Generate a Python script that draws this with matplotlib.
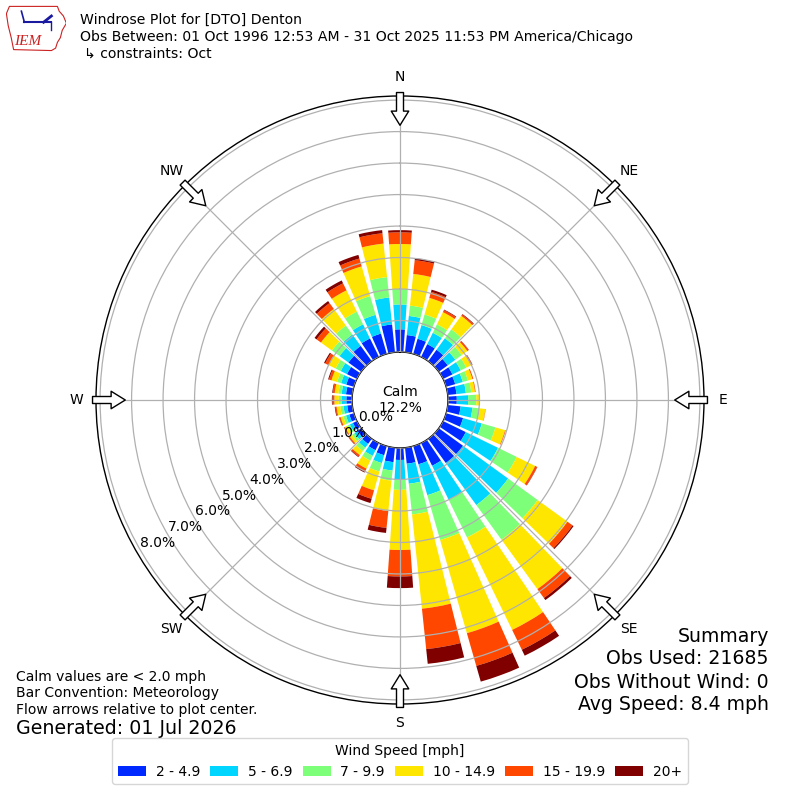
import numpy as np
import matplotlib
matplotlib.use("Agg")
import matplotlib.pyplot as plt
from matplotlib.patches import Polygon

# ---------------- data ----------------
directions = list(range(0, 360, 10))  # degrees, meteorological
speed_labels = ["2 - 4.9", "5 - 6.9", "7 - 9.9", "10 - 14.9", "15 - 19.9", "20+"]
compass_labels = ["N", "NE", "E", "SE", "S", "SW", "W", "NW"]
ring_values = [0, 1, 2, 3, 4, 5, 6, 7, 8]
calm_pct = 12.2

# percent frequency of each direction (0,10,...,350) per speed class
spd_2_5 = [0.72, 0.55, 0.50, 0.45, 0.45, 0.35, 0.33, 0.30, 0.28, 0.28, 0.41, 0.56,
           0.80, 0.95, 0.95, 0.80, 0.60, 0.51, 0.38, 0.46, 0.30, 0.25, 0.20, 0.15,
           0.14, 0.15, 0.16, 0.18, 0.20, 0.25, 0.35, 0.50, 0.60, 0.65, 0.67, 0.89]
spd_5_7 = [0.79, 0.61, 0.45, 0.40, 0.45, 0.30, 0.29, 0.25, 0.30, 0.36, 0.38, 0.62,
           1.14, 1.77, 1.65, 1.20, 1.02, 0.64, 0.64, 0.27, 0.26, 0.20, 0.15, 0.12,
           0.11, 0.11, 0.12, 0.14, 0.14, 0.17, 0.22, 0.35, 0.45, 0.50, 0.62, 0.86]
spd_7_10 = [0.49, 0.33, 0.35, 0.30, 0.35, 0.25, 0.20, 0.17, 0.17, 0.26, 0.23, 0.45,
            0.66, 1.16, 1.36, 1.33, 1.48, 0.98, 0.31, 0.32, 0.28, 0.17, 0.13, 0.09,
            0.08, 0.09, 0.10, 0.10, 0.10, 0.13, 0.18, 0.30, 0.35, 0.45, 0.62, 0.65]
spd_10_15 = [1.43, 1.01, 0.55, 0.43, 0.53, 0.22, 0.17, 0.15, 0.12, 0.10, 0.18, 0.32,
             0.65, 1.17, 1.94, 3.27, 3.08, 3.01, 1.91, 0.97, 0.62, 0.28, 0.16, 0.09,
             0.09, 0.09, 0.12, 0.14, 0.12, 0.19, 0.25, 0.43, 0.65, 0.75, 0.98, 1.07]
spd_15_20 = [0.37, 0.44, 0.20, 0.07, 0.05, 0.05, 0.04, 0.03, 0.02, 0.01, 0.01, 0.02,
             0.07, 0.20, 0.35, 0.70, 1.08, 1.29, 0.84, 0.54, 0.28, 0.10, 0.06, 0.04,
             0.03, 0.04, 0.04, 0.06, 0.06, 0.08, 0.12, 0.17, 0.23, 0.25, 0.26, 0.33]
spd_20p = [0.07, 0.06, 0.07, 0.02, 0.02, 0.01, 0.01, 0.00, 0.00, 0.00, 0.00, 0.00,
           0.01, 0.04, 0.08, 0.21, 0.52, 0.47, 0.37, 0.16, 0.14, 0.04, 0.02, 0.01,
           0.01, 0.01, 0.02, 0.02, 0.02, 0.03, 0.04, 0.08, 0.08, 0.10, 0.12, 0.10]
speed_series = [spd_2_5, spd_5_7, spd_7_10, spd_10_15, spd_15_20, spd_20p]

obs_used = 21685
obs_without_wind = 0
avg_speed = 8.4

# ---------------- figure ----------------
fig = plt.figure(figsize=(8, 8), dpi=100)
ax = fig.add_axes([0.12, 0.12, 0.76, 0.76], projection="polar")
ax.set_theta_zero_location("N")
ax.set_theta_direction(-1)

cmap = plt.get_cmap("jet")
colors = [cmap(v) for v in np.linspace(0, 1, 7)[1:]]

theta = np.deg2rad(directions)
width = np.deg2rad(8.0)
bottom = np.zeros(len(directions))
handles = []
for vals, lab, col in zip(speed_series, speed_labels, colors):
    vals = np.asarray(vals)
    b = ax.bar(theta, vals, width=width, bottom=bottom, color=col,
               linewidth=0, label=lab, zorder=1)
    handles.append(b)
    bottom = bottom + vals

ax.set_rorigin(-1.524)
ax.set_ylim(0, 8.13)
ax.set_rgrids(ring_values, labels=[f"{v:.1f}%" for v in ring_values],
              angle=240, fontsize=10)
ax.set_xticks(np.deg2rad(np.arange(0, 360, 45)))
ax.set_xticklabels(compass_labels, fontsize=10)
ax.set_axisbelow(False)
ax.grid(True, color="#b0b0b0", linewidth=0.9)
for s in ax.spines.values():
    s.set_color("black")
    s.set_linewidth(1.0)

# flow arrows at the edge pointing to centre
for ang in np.arange(0, 360, 45):
    th = np.deg2rad(ang)
    ax.annotate("", xy=(th, 7.2), xytext=(th, 8.24),
                arrowprops=dict(arrowstyle="simple,head_length=0.85,head_width=1.05,tail_width=0.42",
                                fc="white", ec="black", lw=1.0,
                                shrinkA=0, shrinkB=0, mutation_scale=12),
                annotation_clip=False, zorder=5)

ax.text(0.5, 0.5, f"Calm\n{calm_pct:.1f}%", transform=ax.transAxes,
        ha="center", va="center", fontsize=10, zorder=6)

# ---------------- texts ----------------
def fy(py):
    return 1 - py / 800.0

fig.text(80 / 800, fy(20), "Windrose Plot for [DTO] Denton", fontsize=10.1, va="center")
fig.text(80 / 800, fy(37), "Obs Between: 01 Oct 1996 12:53 AM - 31 Oct 2025 11:53 PM America/Chicago",
         fontsize=10.1, va="center")
fig.text(84 / 800, fy(54), "\u21b3 constraints: Oct", fontsize=10.1, va="center")

fig.text(16 / 800, fy(677), "Calm values are < 2.0 mph", fontsize=10, va="center")
fig.text(16 / 800, fy(693), "Bar Convention: Meteorology", fontsize=10, va="center")
fig.text(16 / 800, fy(710), "Flow arrows relative to plot center.", fontsize=10, va="center")
fig.text(16 / 800, fy(729), "Generated: 01 Jul 2026", fontsize=13.7, va="center")

fig.text(769 / 800, fy(636), "Summary", fontsize=13.6, ha="right", va="center")
fig.text(769 / 800, fy(659), f"Obs Used: {obs_used}", fontsize=13.6, ha="right", va="center")
fig.text(769 / 800, fy(682), f"Obs Without Wind: {obs_without_wind}", fontsize=13.6, ha="right", va="center")
fig.text(769 / 800, fy(705), f"Avg Speed: {avg_speed} mph", fontsize=13.6, ha="right", va="center")

leg = fig.legend(handles=handles, labels=speed_labels, loc="lower center",
                 bbox_to_anchor=(0.5, 0.011), ncol=6, title="Wind Speed [mph]",
                 fontsize=10, title_fontsize=10, handlelength=2.0,
                 handletextpad=0.7, columnspacing=0.75, frameon=True)
leg.get_frame().set_edgecolor("#cccccc")

# ---------------- logo ----------------
lax = fig.add_axes([0.008, 0.935, 0.075, 0.06])
lax.set_xlim(0, 1)
lax.set_ylim(0, 1)
lax.axis("off")
iowa = [(0.05, 0.95), (0.85, 0.95), (0.88, 0.85), (0.95, 0.75), (1.0, 0.6),
        (0.93, 0.45), (0.9, 0.3), (0.85, 0.2), (0.82, 0.08), (0.75, 0.03),
        (0.12, 0.05), (0.08, 0.3), (0.03, 0.55), (0.0, 0.8)]
lax.add_patch(Polygon(iowa, closed=True, fill=False, ec="#cc2222", lw=0.8))
lax.plot([0.3, 0.75], [0.62, 0.62], color="#1a1aa0", lw=1.5)
lax.plot([0.3, 0.25], [0.62, 0.85], color="#1a1aa0", lw=1.2)
lax.plot([0.62, 0.75], [0.62, 0.75], color="#1a1aa0", lw=2.0)
lax.plot([0.75, 0.75], [0.62, 0.45], color="#1a1aa0", lw=1.0)
lax.text(0.12, 0.22, "IEM", color="#cc2222", fontsize=11, style="italic",
         family=["Liberation Serif", "DejaVu Serif"], va="center")

fig.savefig("out.png", dpi=100)
